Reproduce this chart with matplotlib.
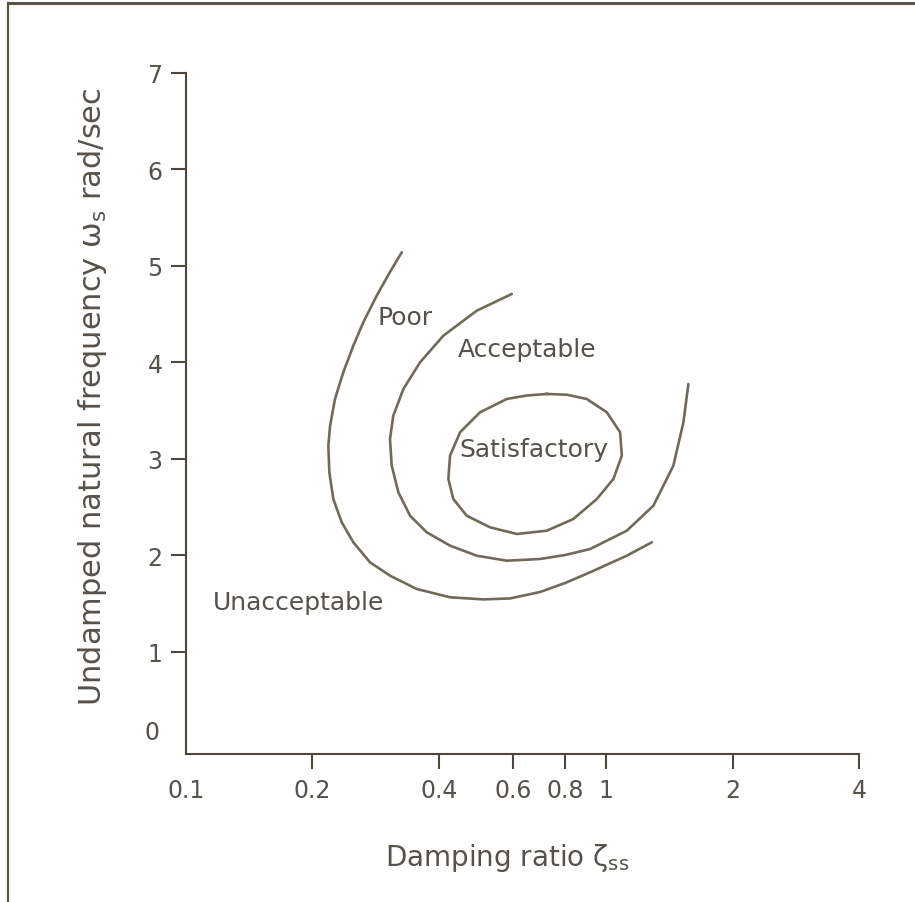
import numpy as np
import matplotlib
matplotlib.use("Agg")
import matplotlib.pyplot as plt
from matplotlib.lines import Line2D

plt.rcParams['font.family'] = ['DejaVu Sans']
plt.rcParams['mathtext.default'] = 'regular'

# curves: damping ratio (log axis) vs natural frequency
poor_zeta = [0.3263, 0.3059, 0.2844, 0.2643, 0.2502, 0.2368, 0.2263, 0.2203, 0.2182, 0.2194,
             0.2242, 0.2348, 0.2502, 0.2742, 0.3059, 0.3542, 0.4252, 0.5104, 0.5907, 0.6966,
             0.7988, 0.9162, 1.1202, 1.2848]
poor_omega = [5.142, 4.938, 4.692, 4.417, 4.174, 3.898, 3.622, 3.345, 3.138, 2.862,
              2.585, 2.344, 2.137, 1.929, 1.791, 1.653, 1.567, 1.545, 1.555, 1.622,
              1.715, 1.826, 1.998, 2.137]

acc_zeta = [0.5964, 0.4922, 0.4099, 0.3607, 0.3292, 0.3115, 0.3059, 0.3088, 0.3203, 0.3415,
            0.3742, 0.4252, 0.4922, 0.5803, 0.6966, 0.7988, 0.9162, 1.1202, 1.296, 1.446,
            1.528, 1.570]
acc_omega = [4.710, 4.537, 4.278, 4.002, 3.725, 3.449, 3.207, 2.931, 2.655, 2.412,
             2.240, 2.102, 1.998, 1.946, 1.964, 2.005, 2.067, 2.257, 2.516, 2.931,
             3.380, 3.777]

sat_zeta = [0.7225, 0.8062, 0.8995, 1.004, 1.080, 1.090, 1.041, 0.9504, 0.8357, 0.7225,
            0.6129, 0.5295, 0.4659, 0.4329, 0.4212, 0.4252, 0.4492, 0.5012, 0.5803, 0.6474,
            0.7225]
sat_omega = [3.674, 3.666, 3.622, 3.484, 3.277, 3.034, 2.793, 2.585, 2.378, 2.257,
             2.223, 2.292, 2.412, 2.585, 2.793, 3.034, 3.277, 3.484, 3.622, 3.658,
             3.674]

xticks = [0.2, 0.4, 0.6, 0.8, 1, 2, 4]
xtick_labels = ['0.2', '0.4', '0.6', '0.8', '1', '2', '4']
yticks = [1, 2, 3, 4, 5, 6, 7]

region_names = ['Poor', 'Acceptable', 'Satisfactory', 'Unacceptable']
region_zeta = [0.332, 0.649, 0.674, 0.185]
region_omega = [4.47, 4.14, 3.10, 1.52]

axis_col = '#4f463d'
line_col = '#72695d'
text_col = '#57514b'

fig = plt.figure(figsize=(9.15, 9.03), dpi=100)
ax = fig.add_axes([186/915, 1 - 755/903, (859 - 186)/915, (755 - 74)/903])

ax.plot(poor_zeta, poor_omega, color=line_col, lw=1.9, solid_capstyle='round', solid_joinstyle='round')
ax.plot(acc_zeta, acc_omega, color=line_col, lw=1.9, solid_capstyle='round', solid_joinstyle='round')
ax.plot(sat_zeta, sat_omega, color=line_col, lw=1.9, solid_joinstyle='round')

ax.set_xscale('log')
ax.set_xlim(0.1, 4)
ax.set_ylim(-0.057, 7)
ax.minorticks_off()
ax.set_xticks(xticks)
ax.set_xticklabels(xtick_labels)
ax.set_yticks(yticks)
ax.tick_params(axis='both', direction='out', length=11, width=1.5, colors=axis_col,
               labelcolor=text_col, labelsize=17, pad=6)

for s in ['top', 'right']:
    ax.spines[s].set_visible(False)
for s in ['left', 'bottom']:
    ax.spines[s].set_color(axis_col)
    ax.spines[s].set_linewidth(1.5)

# zero labels at the origin have no tick marks
ax.text(0.1, -0.035, '0.1', transform=ax.get_xaxis_transform(), ha='center', va='top',
        fontsize=17, color=text_col)
ax.text(-0.04, 0.17, '0', transform=ax.get_yaxis_transform(), ha='right', va='center',
        fontsize=17, color=text_col)

for name, zx, wy in zip(region_names, region_zeta, region_omega):
    ax.text(zx, wy, name, ha='center', va='center', fontsize=18, color=text_col)

fig.text(507/915, 1 - 858/903, r'Damping ratio $\zeta_{ss}$', ha='center', va='center',
         fontsize=20, color=text_col)
fig.text(93/915, 1 - 397/903, r'Undamped natural frequency $\omega_s$ rad/sec', ha='center',
         va='center', rotation=90, fontsize=22, color=text_col)

# frame around the figure (top and left edges show)
fig.add_artist(Line2D([8/915, 1], [1 - 4/903, 1 - 4/903], color='#5a5147', lw=2.2))
fig.add_artist(Line2D([8/915, 8/915], [0, 1 - 4/903], color='#5a5147', lw=1.6))

fig.savefig('out.png', dpi=100)
